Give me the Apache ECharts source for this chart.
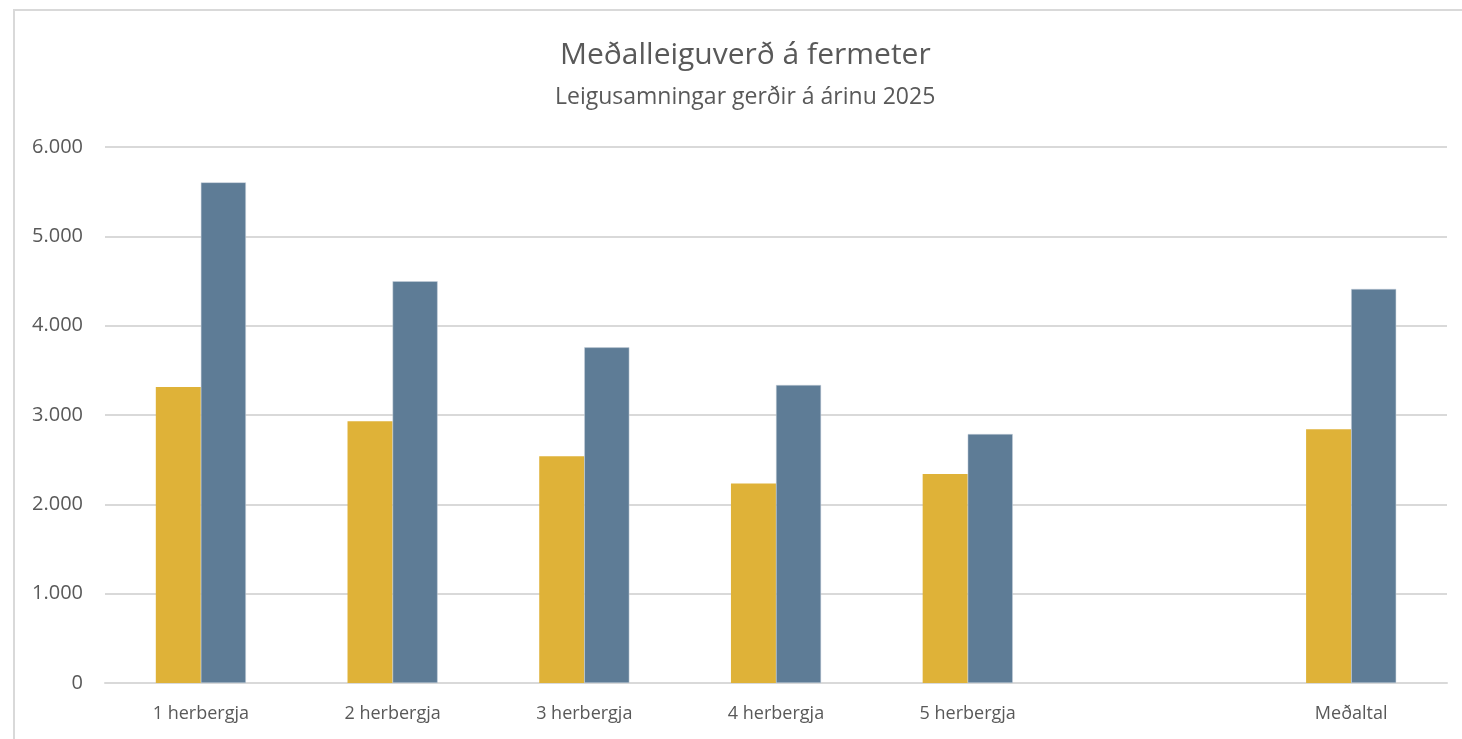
<!DOCTYPE html>
<html>
<head>
<meta charset="utf-8">
<script src="https://cdn.jsdelivr.net/npm/echarts@6/dist/echarts.min.js"></script>
<style>
html,body{margin:0;padding:0;background:#fff;}
#chart{width:1462px;height:739px;}
</style>
</head>
<body>
<div id="chart"></div>
<script>
const categories = ['1 herbergja', '2 herbergja', '3 herbergja', '4 herbergja', '5 herbergja', '', 'Meðaltal'];
const seriesA = [3313, 2930, 2537, 2234, 2340, null, 2840];
const seriesB = [5604, 4497, 3757, 3336, 2787, null, 4411];
const titleText = 'Meðalleiguverð á fermeter';
const subtitleText = 'Leigusamningar gerðir á árinu 2025';

const fontFam = '"Open Sans", "Noto Sans", "DejaVu Sans", sans-serif';
const chart = echarts.init(document.getElementById('chart'));
chart.setOption({
  animation: false,
  backgroundColor: '#fff',
  graphic: [{
    type: 'rect',
    shape: { x: 14, y: 10, width: 1470, height: 760 },
    style: { fill: 'none', stroke: '#d9d9d9', lineWidth: 2 },
    silent: true
  }],
  title: [{
    text: titleText,
    left: 560,
    top: 40,
    padding: 0,
    textStyle: { color: '#595959', fontSize: 30, fontWeight: 'normal', fontFamily: fontFam }
  }, {
    text: subtitleText,
    left: 555,
    top: 86,
    padding: 0,
    textStyle: { color: '#595959', fontSize: 23, fontWeight: 'normal', fontFamily: fontFam }
  }],
  grid: { left: 105, right: 15, top: 147, bottom: 56, containLabel: false },
  xAxis: {
    type: 'category',
    data: categories,
    axisLine: { show: true, lineStyle: { color: '#d9d9d9', width: 2 } },
    axisTick: { show: false },
    axisLabel: { color: '#595959', fontSize: 18, fontFamily: fontFam, margin: 22 }
  },
  yAxis: {
    type: 'value',
    min: 0,
    max: 6000,
    interval: 1000,
    axisLine: { show: false },
    axisTick: { show: false },
    splitLine: { lineStyle: { color: '#d9d9d9', width: 2 } },
    axisLabel: {
      color: '#595959', fontSize: 20, fontFamily: fontFam, margin: 22,
      formatter: v => v === 0 ? '0' : v.toLocaleString('de-DE')
    }
  },
  series: [{
    name: 'Sería 1',
    type: 'bar',
    data: seriesA,
    itemStyle: { color: '#DFB238' },
    barGap: '0%',
    barCategoryGap: '53%'
  }, {
    name: 'Sería 2',
    type: 'bar',
    data: seriesB,
    itemStyle: { color: '#5E7C96', borderColor: '#c9d3dc', borderWidth: 0.5 },
    barGap: '0%',
    barCategoryGap: '53%'
  }]
});
</script>
</body>
</html>
